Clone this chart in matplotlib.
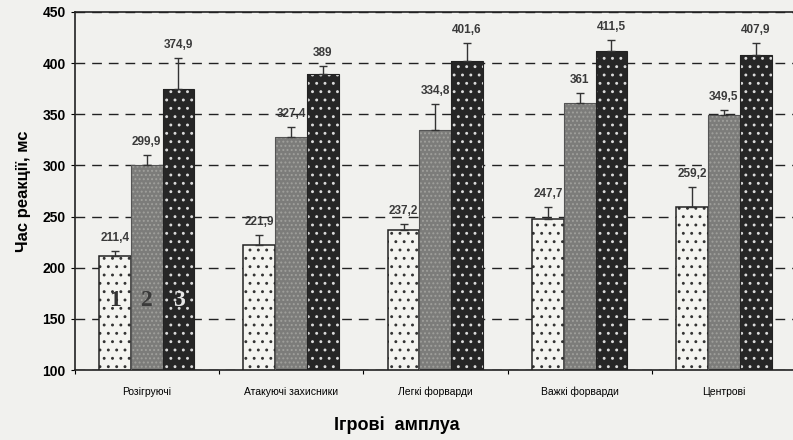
import numpy as np
import matplotlib
matplotlib.use("Agg")
import matplotlib.pyplot as plt

categories = ["Розігруючі", "Атакуючі захисники", "Легкі форварди", "Важкі форварди", "Центрові"]
series1 = [211.4, 221.9, 237.2, 247.7, 259.2]
series2 = [299.9, 327.4, 334.8, 361.0, 349.5]
series3 = [374.9, 389.0, 401.6, 411.5, 407.9]
err1 = [5, 10, 6, 12, 20]
err2 = [10, 10, 25, 10, 5]
err3 = [30, 8, 18, 11, 12]
labels1 = ["211,4", "221,9", "237,2", "247,7", "259,2"]
labels2 = ["299,9", "327,4", "334,8", "361", "349,5"]
labels3 = ["374,9", "389", "401,6", "411,5", "407,9"]

bg = "#f1f1ee"
plt.rcParams["font.family"] = ["Liberation Sans", "DejaVu Sans"]
plt.rcParams["hatch.linewidth"] = 0.9

fig = plt.figure(figsize=(7.93, 4.40), dpi=100, facecolor=bg)
ax = fig.add_axes([0.094, 0.159, 0.91, 0.814], facecolor=bg)

x = np.arange(len(categories))
w = 0.22

# bar fills with dot patterns
ax.bar(x - w, series1, w, color="#f4f4f0", edgecolor="#333333",
       hatch="..", linewidth=0, zorder=2)
ax.bar(x, series2, w, color="#7c7c7a", edgecolor="#a0a09c",
       hatch="....", linewidth=0, zorder=2)
ax.bar(x + w, series3, w, color="#262626", edgecolor="#dcdcdc",
       hatch="..", linewidth=0, zorder=2)
# outlines
ax.bar(x - w, series1, w, fill=False, edgecolor="#222222", linewidth=1.1, zorder=3)
ax.bar(x, series2, w, fill=False, edgecolor="#555555", linewidth=0.8, zorder=3)
ax.bar(x + w, series3, w, fill=False, edgecolor="#222222", linewidth=0.8, zorder=3)

for s, e, off in [(series1, err1, -w), (series2, err2, 0), (series3, err3, w)]:
    ax.errorbar(x + off, s, yerr=[np.zeros(len(e)), e], fmt="none", ecolor="#333333",
                capsize=3, elinewidth=1, zorder=4)

for s, e, lab, off in [(series1, err1, labels1, -w), (series2, err2, labels2, 0), (series3, err3, labels3, w)]:
    for xi, v, ei, t in zip(x, s, e, lab):
        ax.annotate(t, (xi + off, v + ei), xytext=(0, 5), textcoords="offset points",
                    ha="center", va="bottom", fontsize=8.5, fontweight="bold", color="#3a3a3a", zorder=5)

# numbers inside the first group
for off, num, col in [(-w, "1", "#333333"), (0, "2", "#3a3a3a"), (w, "3", "#e8e8e8")]:
    ax.text(off, 168, num, ha="center", va="center", fontsize=17, fontweight="bold",
            family="Liberation Serif", color=col, zorder=5)

ax.set_ylim(100, 450)
ax.set_xlim(-0.5, len(categories) - 0.5)
ax.set_yticks(np.arange(100, 451, 50))
ax.yaxis.grid(True, linestyle=(0, (7, 5)), color="#222222", linewidth=1.0, zorder=1)
ax.set_axisbelow(True)

ax.set_xticks(np.arange(-0.5, len(categories) - 0.4, 1))
ax.set_xticklabels([])
ax.set_xticks(x, minor=True)
ax.set_xticklabels(categories, minor=True, fontsize=7.5)
ax.tick_params(axis="x", which="minor", length=0, pad=12)
ax.tick_params(axis="x", which="major", length=3, direction="out")
ax.tick_params(axis="y", labelsize=10, length=3, direction="out")
for t in ax.get_yticklabels():
    t.set_fontweight("bold")

for sp in ["left", "bottom", "top"]:
    ax.spines[sp].set_color("#222222")
    ax.spines[sp].set_linewidth(1.2)
ax.spines["right"].set_visible(False)

ax.set_ylabel("Час реакції, мс", fontsize=12, fontweight="bold", labelpad=8)
fig.text(0.5, 0.033, "Ігрові  амплуа", ha="center", va="center", fontsize=13, fontweight="bold")

fig.savefig("out.png", dpi=100, facecolor=bg)
